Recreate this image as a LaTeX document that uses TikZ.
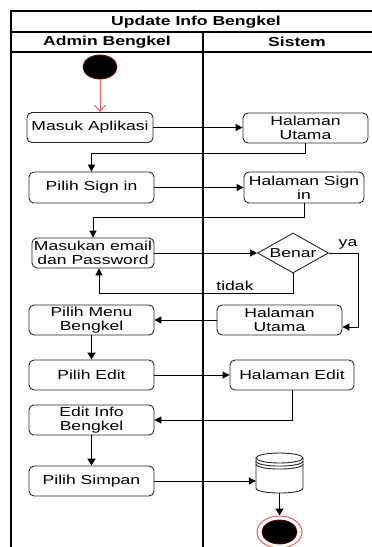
\documentclass[tikz,border=0pt]{standalone}
\usepackage{fontspec}
\setmainfont{Liberation Sans}[FakeStretch=1.35]
\usetikzlibrary{arrows.meta,shapes.geometric,calc}

\definecolor{startred}{RGB}{224,96,96}

\begin{document}
\begin{tikzpicture}[x=1pt,y=-1pt,
  txt/.style={font=\fontsize{13}{14}\selectfont},
  act/.style={txt, draw=black!85, line width=0.9pt, rounded corners=5pt,
    fill=white, align=center, inner sep=1pt,
    minimum width=125pt, minimum height=30pt},
  frame/.style={line width=1.2pt, draw=black},
  flow/.style={draw=black, line width=1pt, -{Triangle[length=7pt,width=7pt]}},
  vflow/.style={draw=black, line width=1.8pt, -{Triangle[length=7pt,width=8pt]}},
  lbl/.style={txt, inner sep=0pt}
]
\useasboundingbox (0,0) rectangle (372,547);
\clip (0,0) rectangle (372,547);
\fill[white] (0,0) rectangle (372,547);

% swimlane frame
\draw[frame] (11,560) -- (11,11) -- (392,11);
\draw[frame] (11,32) -- (392,32);
\draw[frame] (11,52) -- (392,52);
\draw[frame] (203,32) -- (203,560);
\node[txt, font=\fontsize{13}{14}\selectfont\bfseries] (title) at (196,22) {Update Info Bengkel};
\node[txt, font=\fontsize{13}{14}\selectfont\bfseries] (laneA) at (107,42) {Admin Bengkel};
\node[txt, font=\fontsize{13}{14}\selectfont\bfseries] (laneB) at (297,42) {Sistem};

% start / end
\node[ellipse, fill=black, draw=red!40!black, line width=0.8pt,
      minimum width=34pt, minimum height=24pt, inner sep=0pt] (start) at (100,67) {};
\node[ellipse, fill=white, draw=startred, line width=1pt,
      minimum width=45pt, minimum height=32pt, inner sep=0pt] (endc) at (279.5,532) {};
\node[ellipse, fill=black, draw=red!40!black, line width=0.8pt,
      minimum width=35pt, minimum height=24pt, inner sep=0pt] (endin) at (279.5,532) {};

% actions
\node[act, minimum width=126pt] (masuk) at (90,127.5) {Masuk Aplikasi};
\node[act] (hu1) at (305.5,128) {Halaman\\Utama};
\node[act, minimum height=31pt] (psi) at (91.5,187.5) {Pilih Sign in};
\node[act, minimum width=120pt, minimum height=31pt] (hsi) at (304,187.5) {Halaman Sign\\in};
\node[act, minimum width=122pt] (email) at (93,253) {Masukan email\\dan Password};
\node[diamond, txt, draw=black!85, line width=0.9pt, fill=white, aspect=1.775,
      minimum width=71pt, minimum height=40pt, inner sep=0pt] (benar) at (293,253) {Benar};
\node[act] (pmb) at (91.5,320) {Pilih Menu\\Bengkel};
\node[act] (hu2) at (279.5,320) {Halaman\\Utama};
\node[act] (pe) at (91.5,375) {Pilih Edit};
\node[act, minimum width=124pt] (he) at (292,375) {Halaman Edit};
\node[act] (eib) at (91.5,420) {Edit Info\\Bengkel};
\node[act] (ps) at (91.5,481) {Pilih Simpan};

% data store
\node[minimum width=47pt, minimum height=40pt, inner sep=0pt] (db) at (279.5,473) {};
\begin{scope}[shift={(db.center)}, line width=0.9pt, draw=black!85]
  \filldraw[fill=white, draw=black!85] (-23.5,-15) -- (-23.5,15)
     .. controls (-23.5,21.7) and (23.5,21.7) .. (23.5,15) -- (23.5,-15) -- cycle;
  \filldraw[fill=white, draw=black!85] (0,-15) ellipse [x radius=23.5, y radius=5];
  \draw (-23.5,-12) .. controls (-23.5,-5.3) and (23.5,-5.3) .. (23.5,-12);
  \draw (-23.5,-9) .. controls (-23.5,-2.3) and (23.5,-2.3) .. (23.5,-9);
\end{scope}

% control flow
\draw[draw=startred, line width=1pt, -{Straight Barb[length=6pt,width=11pt]}]
  (start.south) -- (start.south |- masuk.north);
\draw[flow] (masuk.east) -- (masuk.east -| hu1.west);
\draw[flow] (hu1.south) -- ++(0,10) -| (psi.north);
\draw[flow] (psi.east) -- (psi.east -| hsi.west);
\draw[flow] (hsi.south) -- ++(0,14.5) -| (email.north);
\draw[flow] (email.east) -- (benar.west);
\draw[flow] (benar.east) -- ++(30,0) |- ($(hu2.east)+(0,7)$);
\node[lbl] (ya) at (348,244) {ya};
\draw[flow] (benar.south) -- ++(0,20) -| ($(email.south)+(6,0)$);
\node[lbl] (tidak) at (235,286) {tidak};
\draw[flow] (hu2.west) -- (hu2.west -| pmb.east);
\draw[vflow] (pmb.south) -- (pe.north);
\draw[flow] (pe.east) -- (pe.east -| he.west);
\draw[flow] (he.south) |- (eib.east);
\draw[vflow] (eib.south) -- (ps.north);
\draw[flow] (ps.east) -- (ps.east -| db.west);
\draw[vflow] (db.south) -- (endc.north);
\end{tikzpicture}
\end{document}
